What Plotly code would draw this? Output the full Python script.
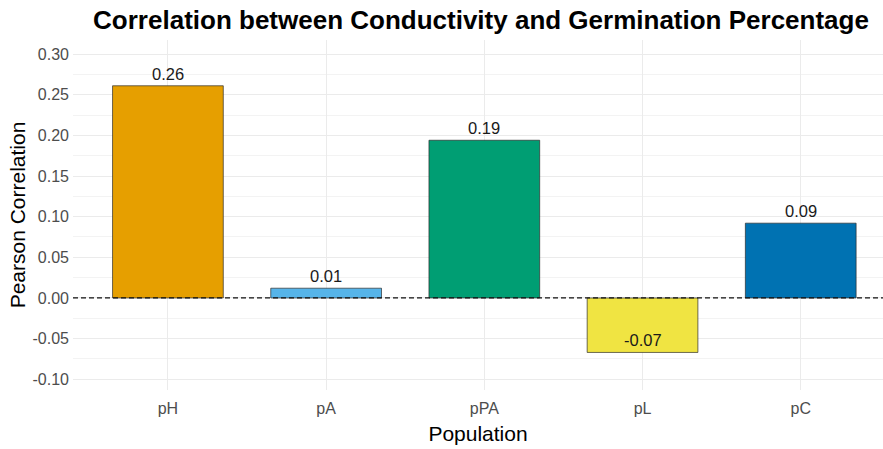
import plotly.graph_objects as go

# Pearson correlation between conductivity and germination percentage per population
populations = ["pH", "pA", "pPA", "pL", "pC"]
correlations = [0.261, 0.012, 0.194, -0.067, 0.092]
bar_colors = ["#E69F00", "#56B4E9", "#009E73", "#F0E442", "#0072B2"]
y_ticks = [-0.10, -0.05, 0.00, 0.05, 0.10, 0.15, 0.20, 0.25, 0.30]

FONT = "Liberation Sans, Arial, sans-serif"

fig = go.Figure()
fig.add_trace(go.Bar(
    x=populations,
    y=correlations,
    width=0.7,
    marker=dict(color=bar_colors, line=dict(color="rgba(40,40,40,0.85)", width=0.8)),
    showlegend=False,
    hoverinfo="x+y",
))

# value labels placed just above each bar's value point
for pop, val in zip(populations, correlations):
    fig.add_annotation(
        x=pop, y=val, text=f"{val:.2f}", showarrow=False,
        yanchor="bottom", yshift=1,
        font=dict(family=FONT, size=16.5, color="#1a1a1a"),
    )

# dashed reference line at zero
fig.add_shape(type="line", xref="paper", x0=0, x1=1, yref="y", y0=0, y1=0,
              line=dict(color="#111111", width=1.2, dash="5px,3px"))

fig.update_layout(
    width=883, height=449,
    margin=dict(l=73, r=0, t=40, b=59),
    paper_bgcolor="white", plot_bgcolor="white",
    title=dict(
        text="<b>Correlation between Conductivity and Germination Percentage</b>",
        x=481 / 883, xref="container", xanchor="center",
        y=1 - 20 / 449, yref="container", yanchor="middle",
        font=dict(family=FONT, size=26, color="black"),
    ),
    xaxis=dict(
        range=[-0.6, 4.52],
        showgrid=True, gridcolor="#EBEBEB", gridwidth=1,
        zeroline=False, showline=False, ticks="",
        ticklabelstandoff=7,
        tickfont=dict(family=FONT, size=16, color="#4D4D4D"),
        title=dict(text="Population", font=dict(family=FONT, size=21, color="black"), standoff=10),
    ),
    yaxis=dict(
        range=[-0.1132, 0.3173],
        tickvals=y_ticks,
        ticktext=[f"{v:.2f}" for v in y_ticks],
        showgrid=True, gridcolor="#EBEBEB", gridwidth=1,
        minor=dict(dtick=0.025, tick0=0, showgrid=True, gridcolor="#F3F3F3", gridwidth=0.6),
        zeroline=False, showline=False, ticks="",
        ticklabelstandoff=3,
        tickfont=dict(family=FONT, size=16, color="#4D4D4D"),
        title=dict(text="Pearson Correlation", font=dict(family=FONT, size=21, color="black"), standoff=1),
    ),
)

fig.write_html("out.html")
